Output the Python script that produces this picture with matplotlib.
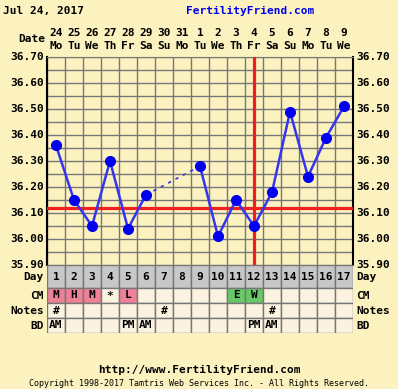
import numpy as np
import matplotlib
matplotlib.use('Agg')
import matplotlib.pyplot as plt
from matplotlib.patches import Rectangle

# data
days = list(range(1, 18))
dates = ['24', '25', '26', '27', '28', '29', '30', '31', '1', '2', '3', '4', '5', '6', '7', '8', '9']
weekdays = ['Mo', 'Tu', 'We', 'Th', 'Fr', 'Sa', 'Su', 'Mo', 'Tu', 'We', 'Th', 'Fr', 'Sa', 'Su', 'Mo', 'Tu', 'We']
temps = [36.36, 36.15, 36.05, 36.30, 36.04, 36.17, np.nan, np.nan, 36.28, 36.01,
         36.15, 36.05, 36.18, 36.49, 36.24, 36.39, 36.51]
coverline = 36.12
ovulation_day = 12
cm = ['M', 'H', 'M', '*', 'L', '', '', '', '', '', 'E', 'W', '', '', '', '', '']
notes = ['#', '', '', '', '', '', '#', '', '', '', '', '', '#', '', '', '', '']
bd = ['AM', '', '', '', 'PM', 'AM', '', '', '', '', '', 'PM', 'AM', '', '', '', '']
yticks = [35.90, 36.00, 36.10, 36.20, 36.30, 36.40, 36.50, 36.60, 36.70]

W, H = 398, 389
bg = '#FCF2C0'
cream = '#FBF3E0'
gridc = '#777777'
font = 'DejaVu Sans Mono'

fig = plt.figure(figsize=(W / 100, H / 100), dpi=100, facecolor=bg)

def px(x, y):
    return x / W, 1 - y / H

def txt(x, y, s, **kw):
    kw.setdefault('fontsize', 8)
    kw.setdefault('fontweight', 'bold')
    kw.setdefault('family', font)
    kw.setdefault('va', 'center')
    fig.text(*px(x, y), s, **kw)

# temperature chart
ax = fig.add_axes([47 / W, (H - 265) / H, 306 / W, 208 / H])
ax.set_facecolor(bg)
ax.set_xlim(0.5, 17.5)
ax.set_ylim(35.90, 36.70)
for x in np.arange(0.5, 18, 1):
    ax.axvline(x, color=gridc, lw=1, zorder=1)
for y in np.arange(35.90, 36.71, 0.05):
    ax.axhline(y, color=gridc, lw=1, zorder=1)
ax.set_xticks([])
ax.set_yticks([])
for s in ['left', 'right']:
    ax.spines[s].set_color('black')
    ax.spines[s].set_linewidth(1.5)
for s in ['top', 'bottom']:
    ax.spines[s].set_color(gridc)

ax.axhline(coverline, color='#F02020', lw=2.3, zorder=3)
ax.axvline(ovulation_day, color='#F02020', lw=2.3, zorder=3)

t = np.array(temps)
d = np.array(days)
valid = d[~np.isnan(t)]
for a, b in zip(valid[:-1], valid[1:]):
    ls = '-' if b - a == 1 else (0, (2, 3))
    lw = 1.8 if b - a == 1 else 1.2
    ax.plot([a, b], [t[a - 1], t[b - 1]], color='#3535F0', lw=lw, ls=ls, zorder=4)
ax.plot(d, t, 'o', color='#0000F0', ms=7, zorder=5)

# bottom table
tb = fig.add_axes([47 / W, (H - 333) / H, 306 / W, 68 / H])
tb.set_xlim(0.5, 17.5)
tb.set_ylim(0, 68)
tb.axis('off')
rows = [(45, 23, '#C8C8C8'), (30, 15, cream), (15, 15, cream), (0, 15, cream)]
for i, day in enumerate(days):
    for y0, h, c in rows:
        fc = c
        if y0 == 30 and cm[i] in ('M', 'H', 'L'):
            fc = '#F08098'
        if y0 == 30 and cm[i] in ('E', 'W'):
            fc = '#66C866'
        tb.add_patch(Rectangle((day - 0.5, y0), 1, h, fc=fc, ec=gridc, lw=1))
    kw = dict(ha='center', va='center', fontsize=8, fontweight='bold', family=font)
    tb.text(day, 56.5, str(day), **kw)
    tb.text(day, 37.5, cm[i], **kw)
    tb.text(day, 22.5, notes[i], **kw)
    tb.text(day, 7.5, bd[i], **kw)

# axis labels on both sides
for v in yticks:
    y = 57 + (36.70 - v) / 0.8 * 208
    txt(44, y, f'{v:.2f}', ha='right')
    txt(356, y, f'{v:.2f}', ha='left')
for name, y in [('Day', 277), ('CM', 296), ('Notes', 311), ('BD', 326)]:
    txt(44, y, name, ha='right')
    txt(356, y, name, ha='left')

# date header
txt(45, 39, 'Date', ha='right')
for i, day in enumerate(days):
    x = 47 + (day - 0.5) * 18
    txt(x, 33, dates[i], ha='center')
    txt(x, 46, weekdays[i], ha='center')

txt(3, 11, 'Jul 24, 2017', ha='left')
txt(250, 11, 'FertilityFriend.com', ha='center', color='#0000F0')
txt(199, 370, 'http://www.FertilityFriend.com', ha='center')
txt(199, 383, 'Copyright 1998-2017 Tamtris Web Services Inc. - All Rights Reserved.',
    ha='center', fontsize=6, fontweight='normal')

fig.savefig('out.png', dpi=100, facecolor=bg)
